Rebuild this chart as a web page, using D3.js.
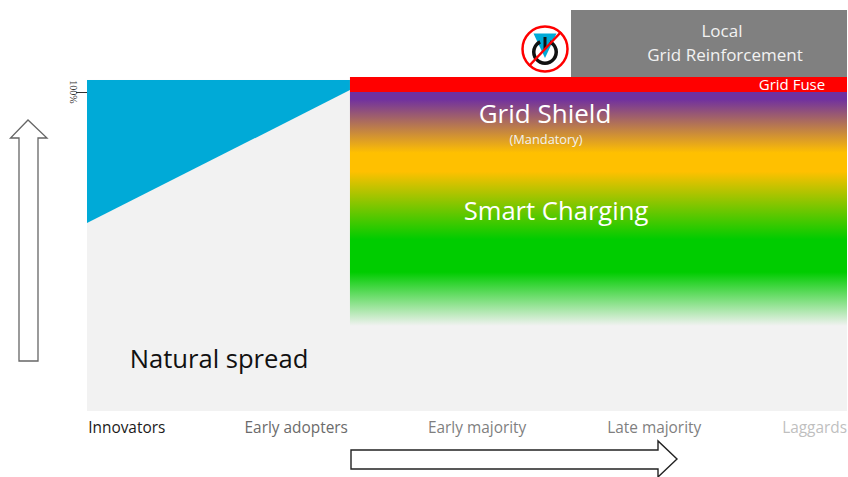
<!DOCTYPE html>
<html><head><meta charset="utf-8">
<script src="https://cdnjs.cloudflare.com/ajax/libs/d3/7.8.5/d3.min.js"></script>
<style>html,body{margin:0;background:#fff}svg{display:block}text{font-family:"Open Sans",sans-serif}</style>
</head><body><div id="c"></div>
<script>
const categories=["Innovators","Early adopters","Early majority","Late majority","Laggards"];
const categoryPos=[5.3,27.6,51.4,74.7,95.8];
const categoryColors=["#1a1a1a","#6b6b6b","#7f7f7f","#7f7f7f","#bfbfbf"];
const wedgeX=[0,34.6];
const wedgeLow=[58.9,100.6];
const topValue=103.8;
const gradientStops=[[0,"#7030A0",1],[3,"#7030A0",1],[26,"#FFC000",1],[34,"#FFC000",1],[63,"#00CC00",1],[77,"#00CC00",1],[100,"#00CC00",0]];
const W=848,H=477;
const x=d3.scaleLinear().domain([0,100]).range([87,847]);
const y=d3.scaleLinear().domain([0,100]).range([411,92]);
const svg=d3.select("#c").append("svg").attr("width",W).attr("height",H);
const defs=svg.append("defs");
const g=defs.append("linearGradient").attr("id","band").attr("x1",0).attr("x2",0).attr("y1",0).attr("y2",1);
g.selectAll("stop").data(gradientStops).join("stop").attr("offset",d=>d[0]+"%").attr("stop-color",d=>d[1]).attr("stop-opacity",d=>d[2]);

svg.append("rect").attr("x",x(0)).attr("y",y(topValue)).attr("width",x(100)-x(0)).attr("height",y(0)-y(topValue)).attr("fill","#f2f2f2");
svg.append("path").attr("fill","#00AAD7")
 .attr("d",d3.line()([[x(wedgeX[0]),y(topValue)],[x(wedgeX[1]),y(topValue)],[x(wedgeX[1]),y(wedgeLow[1])],[x(wedgeX[0]),y(wedgeLow[0])]]));
svg.append("rect").attr("x",x(wedgeX[1])).attr("y",92).attr("width",x(100)-x(wedgeX[1])).attr("height",234).attr("fill","url(#band)");
svg.append("rect").attr("x",x(wedgeX[1])).attr("y",77).attr("width",x(100)-x(wedgeX[1])).attr("height",15).attr("fill","#FF0000");
svg.append("rect").attr("x",571).attr("y",10).attr("width",276).attr("height",67).attr("fill","#808080");

const yAxis=d3.axisLeft(y).tickValues([100]).tickSize(11).tickFormat(()=>"");
const ax=svg.append("g").attr("transform","translate(87,0)").call(yAxis);
ax.select(".domain").remove();ax.selectAll("line").attr("stroke","#333");
svg.append("text").attr("transform","translate(70,92) rotate(90)").attr("text-anchor","middle")
 .style("font-family","'Liberation Serif',serif").style("font-size","10px").attr("fill","#333").text("100%");

function label(t,cx,cy,size,fill){return svg.append("text").attr("x",cx).attr("y",cy).attr("text-anchor","middle").attr("dominant-baseline","central")
 .style("font-size",size+"px").attr("fill",fill).text(t);}
label("Local",722,30,17,"#f2f2f2");
label("Grid Reinforcement",725,54,17,"#f2f2f2");
label("Grid Fuse",792,84,15,"#fff");
label("Grid Shield",545,113,26,"#fff");
label("(Mandatory)",546,139,12.8,"#f2f2f2");
label("Smart Charging",556,210,25.6,"#fff");
label("Natural spread",219,358,25.6,"#111");
svg.selectAll(".cat").data(categories).join("text").attr("class","cat")
 .attr("x",(d,i)=>x(categoryPos[i])-0.5).attr("y",427).attr("text-anchor","middle").attr("dominant-baseline","central")
 .style("font-size","15.4px").attr("fill",(d,i)=>categoryColors[i]).text(d=>d);

const ln=d3.line();
svg.append("path").attr("d",ln([[19,361],[38,361],[38,138],[47,138],[28,120],[10.5,138],[19,138]])+"Z").attr("fill","#fff").attr("stroke","#666").attr("stroke-width",1.3);
svg.append("path").attr("d",ln([[351,450],[658,450],[658,441],[677,459],[658,477],[658,469],[351,469]])+"Z").attr("fill","#fff").attr("stroke","#222").attr("stroke-width",1.4);

const ic=svg.append("g").attr("transform","translate(545,49)");
ic.append("circle").attr("r",22.5).attr("fill","#fff").attr("stroke","#FF0000").attr("stroke-width",2.5);
ic.append("path").attr("d",ln([[-11.5,-15.5],[11.5,-15.5],[0,9]])+"Z").attr("fill","#00AAD7");
ic.append("path").attr("transform","translate(0,3)").attr("d",d3.arc().innerRadius(9.5).outerRadius(13).startAngle(0.45).endAngle(2*Math.PI-0.45)()).attr("fill","#111");
ic.append("rect").attr("x",-1.5).attr("y",-12).attr("width",3).attr("height",12).attr("fill","#111");
ic.append("line").attr("x1",16).attr("y1",-17).attr("x2",-16).attr("y2",17).attr("stroke","#FF0000").attr("stroke-width",2.5);
</script></body></html>
